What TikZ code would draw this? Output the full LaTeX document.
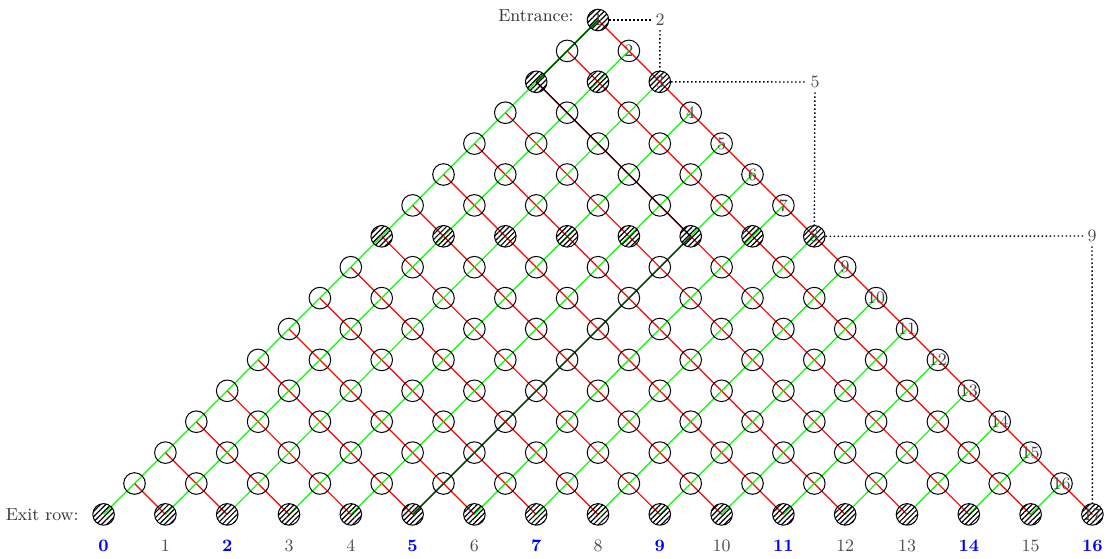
\documentclass[tikz,border=0pt]{standalone}
\usetikzlibrary{patterns.meta,backgrounds}
\begin{document}
\begin{tikzpicture}[x=0.5pt,y=-0.5pt,
  font=\fontsize{8.7pt}{10pt}\selectfont,
  cell/.style={circle,draw=black,line width=0.5pt,minimum size=10.8pt,inner sep=0pt,text=black!75},
  hcell/.style={cell,pattern={Lines[angle=45,distance=1.85pt,line width=0.6pt]}},
  ledge/.style={green,line width=0.6pt},
  redge/.style={red,line width=0.6pt},
  pathl/.style={green!25!black,line width=0.7pt},
  pathr/.style={red!25!black,line width=0.7pt},
  guide/.style={dash pattern=on 0.7pt off 1.3pt,line width=0.7pt},
  stage/.style={text=black!70,inner sep=2pt},
  exitlab/.style={text=black!70},
  goodexit/.style={text=blue,font=\fontsize{8.7pt}{10pt}\selectfont\bfseries}
]
\useasboundingbox (0,0) rectangle (1109,558);
% lattice nodes
\foreach \r in {0,...,16} {
  \foreach \k in {0,...,\r} {
    \pgfmathsetmacro\xx{598+(2*\k-\r)*30.9}
    \pgfmathsetmacro\yy{20+\r*30.9}
    \pgfmathtruncatemacro\lab{\r+1}
    \pgfmathtruncatemacro\ishat{(\r==0)||(\r==2)||(\r==7)||(\r==16)}
    \ifnum\ishat=1 \tikzset{cur/.style={hcell}}\else\tikzset{cur/.style={cell}}\fi
    \ifnum\k=\r
      \node[cur] (n-\r-\k) at (\xx,\yy) {\lab};
    \else
      \node[cur] (n-\r-\k) at (\xx,\yy) {};
    \fi
  }
}
% edges
\begin{scope}[on background layer]
\foreach \r in {0,...,15} {
  \pgfmathtruncatemacro\rr{\r+1}
  \foreach \k in {0,...,\r} {
    \pgfmathtruncatemacro\kk{\k+1}
    \draw[redge] (n-\r-\k.center) -- (n-\rr-\kk.center);
    \draw[ledge] (n-\r-\k.center) -- (n-\rr-\k.center);
  }
}
% highlighted path
\draw[pathl] (n-0-0.center) -- (n-1-0.center) -- (n-2-0.center);
\foreach \r in {2,...,6} {
  \pgfmathtruncatemacro\rr{\r+1}
  \pgfmathtruncatemacro\k{\r-2}
  \pgfmathtruncatemacro\kk{\r-1}
  \draw[pathr] (n-\r-\k.center) -- (n-\rr-\kk.center);
}
\foreach \r in {7,...,15} {
  \pgfmathtruncatemacro\rr{\r+1}
  \draw[pathl] (n-\r-5.center) -- (n-\rr-5.center);
}
\end{scope}
% exit labels
\foreach \k in {0,...,16} {
  \pgfmathsetmacro\xx{598+(2*\k-16)*30.9}
  \pgfmathtruncatemacro\good{(\k==0)||(\k==2)||(\k==5)||(\k==7)||(\k==9)||(\k==11)||(\k==14)||(\k==16)}
  \ifnum\good=1
    \node[goodexit] (e-\k) at (\xx,546) {\k};
  \else
    \node[exitlab] (e-\k) at (\xx,546) {\k};
  \fi
}
\node[anchor=east,inner sep=0pt,text=black!80] (entr) at (574,16) {Entrance:};
\node[anchor=east,inner sep=0pt,text=black!80] (exitrow) at (79,515) {Exit row:};
% stage guides
\node[stage] (s2) at (660,20) {2};
\node[stage] (s5) at (815,82) {5};
\node[stage] (s9) at (1092,236) {9};
\draw[guide] (n-0-0) -- (s2);
\draw[guide] (s2) -- (n-2-2);
\draw[guide] (n-2-2) -- (s5);
\draw[guide] (s5) -- (n-7-7);
\draw[guide] (n-7-7) -- (s9);
\draw[guide] (s9) -- (n-16-16);
\end{tikzpicture}
\end{document}
